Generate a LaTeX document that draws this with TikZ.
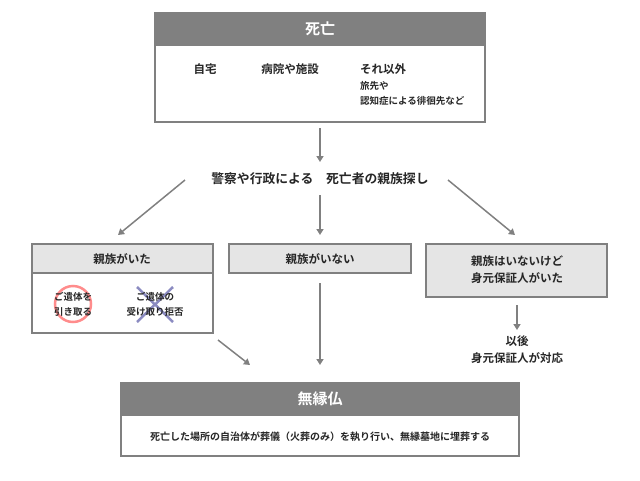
\documentclass[tikz,border=0pt]{standalone}
\usepackage{fontspec}
\newfontfamily\cjk{Noto Sans CJK JP}[BoldFont={Noto Sans CJK JP Bold}]
\usetikzlibrary{arrows.meta}
\begin{document}
\begin{tikzpicture}[x=1pt,y=-1pt,
 box/.style={draw=black!50,line width=1.2pt,fill=white},
 dark/.style={fill=black!50,draw=black!50,line width=1.2pt},
 light/.style={fill=black!10,draw=black!50,line width=1.2pt},
 t/.style={font=\cjk\fontsize{11.5}{13}\selectfont\bfseries,text=black!85,inner sep=0},
 s/.style={font=\cjk\fontsize{9.5}{15}\selectfont\bfseries},
 ht/.style={font=\cjk\fontsize{15}{17}\selectfont\bfseries,text=white,inner sep=0},
 arr/.style={draw=black!50,line width=1.5pt,-{Triangle[length=6pt,width=7pt]}}]
\useasboundingbox (0,0) rectangle (640,480);
% top
\draw[box] (155,13) rectangle (485,122);
\draw[dark] (155,13) rectangle (485,45);
\node[ht] (death) at (320,29) {死亡};
\node[t] (home) at (205,69) {自宅};
\node[t] (hosp) at (290,69) {病院や施設};
\node[t,anchor=west] (other) at (360,69) {それ以外};
\node[t,anchor=west,s] (o1) at (360,86) {旅先や};
\node[t,anchor=west,s] (o2) at (360,101) {認知症による徘徊先など};
\coordinate (a1s) at (320,128); \coordinate (a1e) at (320,162);
\draw[arr] (a1s) -- (a1e);
\node[t,font=\cjk\fontsize{12.8}{15}\selectfont\bfseries] (search) at (320,179) {警察や行政による\quad 死亡者の親族探し};
\coordinate (b1) at (185,180); \coordinate (b1e) at (118,235);
\coordinate (b2) at (320,195); \coordinate (b2e) at (320,235);
\coordinate (b3) at (448,180); \coordinate (b3e) at (515,235);
\draw[arr] (b1) -- (b1e); \draw[arr] (b2) -- (b2e); \draw[arr] (b3) -- (b3e);
% box1
\draw[box] (32,244) rectangle (213,333);
\draw[light] (32,244) rectangle (213,273);
\node[t] (h1) at (122,259) {親族がいた};
\draw[red!45,line width=2.5pt] (73,304) circle (18);
\draw[blue!30!gray!70,line width=2.5pt] (137,287) -- (173,322) (173,287) -- (137,322);
\node[t,align=center,s] (c1) at (73,304) {ご遺体を\\引き取る};
\node[t,align=center,s] (c2) at (155,304) {ご遺体の\\受け取り拒否};
% box2
\draw[light] (229,244) rectangle (411,273);
\node[t] (h2) at (320,259) {親族がいない};
% box3
\draw[light] (426,244) rectangle (607,297);
\node[t,align=center,font=\cjk\fontsize{11.5}{17}\selectfont\bfseries] (h3) at (517,270) {親族はいないけど\\身元保証人がいた};
\coordinate (d1) at (517,305); \coordinate (d1e) at (517,330);
\draw[arr] (d1) -- (d1e);
\node[t,align=center,font=\cjk\fontsize{11.5}{17}\selectfont\bfseries] (after) at (517,350) {以後\\身元保証人が対応};
\coordinate (e1) at (218,340); \coordinate (e1e) at (250,365);
\coordinate (e2) at (320,283); \coordinate (e2e) at (320,365);
\draw[arr] (e1) -- (e1e); \draw[arr] (e2) -- (e2e);
% bottom
\draw[box] (121,383) rectangle (519,456);
\draw[dark] (121,383) rectangle (519,415);
\node[ht] (muen) at (320,399) {無縁仏};
\node[t,font=\cjk\fontsize{10}{11}\selectfont\bfseries] (desc) at (320,437) {死亡した場所の自治体が葬儀（火葬のみ）を執り行い、無縁墓地に埋葬する};
\end{tikzpicture}
\end{document}
